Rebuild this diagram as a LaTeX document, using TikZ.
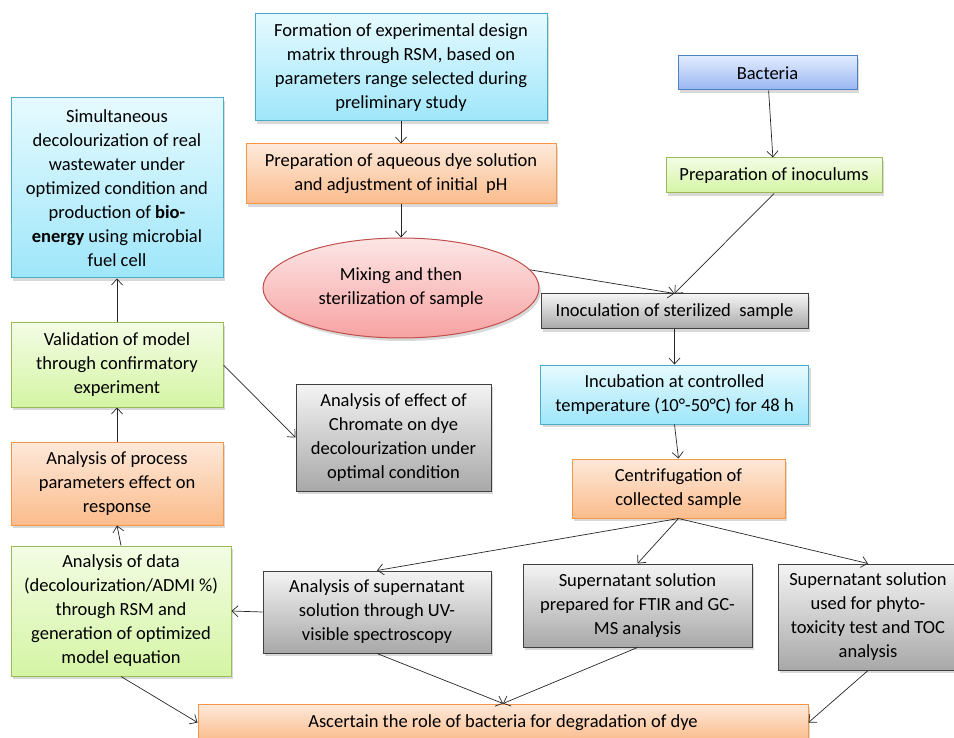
\documentclass[tikz,border=0pt]{standalone}
\usepackage{fontspec}
\setmainfont{Carlito}
\usetikzlibrary{positioning,shapes.geometric,shadows,arrows.meta}

\definecolor{cyanline}{HTML}{4BACC6}
\definecolor{cyantop}{HTML}{E6FAFE}
\definecolor{cyanbot}{HTML}{9EE6FA}
\definecolor{orgline}{HTML}{F79646}
\definecolor{orgtop}{HTML}{FDE9DA}
\definecolor{orgbot}{HTML}{FBBC8C}
\definecolor{grnline}{HTML}{9BBB59}
\definecolor{grntop}{HTML}{F3FCE4}
\definecolor{grnbot}{HTML}{D4F5A4}
\definecolor{gryline}{HTML}{404040}
\definecolor{grytop}{HTML}{F4F4F4}
\definecolor{grybot}{HTML}{A8A8A8}
\definecolor{bluline}{HTML}{4F81BD}
\definecolor{blutop}{HTML}{E2EBFD}
\definecolor{blubot}{HTML}{98B6F4}
\definecolor{redline}{HTML}{C0504D}
\definecolor{redtop}{HTML}{FDE6E6}
\definecolor{redbot}{HTML}{F7A2A2}

\begin{document}
\begin{tikzpicture}[x=1pt, y=-1pt, >={Straight Barb[length=6pt,width=11pt]},
  main/.style = {draw, line width=1pt, align=center, inner sep=0pt,
    font=\fontsize{18.5}{24}\selectfont,
    drop shadow={opacity=0.3, shadow xshift=2pt, shadow yshift=-3pt}},
  cyanbox/.style = {main, draw=cyanline, top color=cyantop, bottom color=cyanbot},
  orgbox/.style = {main, draw=orgline, top color=orgtop, bottom color=orgbot},
  grnbox/.style = {main, draw=grnline, top color=grntop, bottom color=grnbot},
  grybox/.style = {main, draw=gryline, top color=grytop, bottom color=grybot},
  blubox/.style = {main, draw=bluline, top color=blutop, bottom color=blubot},
  link/.style = {->, line width=0.7pt, draw=black!85}]
\useasboundingbox (0,0) rectangle (954,738);

% top middle chain
\node[cyanbox, minimum width=292pt, minimum height=107pt] (form) at (401,67.5)
  {Formation of experimental design\\ matrix through RSM, based on\\ parameters range selected during\\ preliminary study};
\node[orgbox, minimum width=310pt, minimum height=60pt] (dye) [below=22pt of form]
  {Preparation of aqueous dye solution\\ and adjustment of initial\ \ pH};
\node[main, ellipse, draw=redline, top color=redtop, bottom color=redbot,
  minimum width=276pt, minimum height=100pt] (mix) [below=33pt of dye]
  {Mixing and then\\ sterilization of sample};

% bacteria side
\node[blubox, minimum width=179pt, minimum height=34pt] (bact) at (767.5,73) {Bacteria};
\node[grnbox, minimum width=216pt, minimum height=35pt] (inoc) at (774,175.5) {Preparation of inoculums};
\node[grybox, minimum width=267pt, minimum height=35pt] (inocul) at (674.5,311.5) {Inoculation of sterilized\ \ sample};
\node[cyanbox, minimum width=268pt, minimum height=59pt] (incub) [below=35pt of inocul]
  {Incubation at controlled\\ temperature (10°-50°C) for 48 h};
\node[orgbox, minimum width=213pt, minimum height=59pt] (centri) [below=34pt of incub, xshift=4pt]
  {Centrifugation of\\ collected sample};

% left column
\node[cyanbox, minimum width=212pt, minimum height=180pt] (simul) at (117,188)
  {Simultaneous\\ decolourization of real\\ wastewater under\\ optimized condition and\\ production of \textbf{bio-}\\ \textbf{energy} using microbial\\ fuel cell};
\node[grnbox, minimum width=212pt, minimum height=84pt] (valid) [below=44pt of simul]
  {Validation of model\\ through confirmatory\\ experiment};
\node[orgbox, minimum width=212pt, minimum height=83pt] (proc) [below=34pt of valid]
  {Analysis of process\\ parameters effect on\\ response};
\node[grnbox, minimum width=220pt, minimum height=130pt] (data) [below=20pt of proc, xshift=4pt]
  {Analysis of data\\ (decolourization/ADMI \%)\\ through RSM and\\ generation of optimized\\ model equation};
\node[grybox, minimum width=195pt, minimum height=107pt] (chrom) at (393.5,437.5)
  {Analysis of effect of\\ Chromate on dye\\ decolourization under\\ optimal condition};

% bottom row
\node[grybox, minimum width=228pt, minimum height=82pt] (uv) at (377,612)
  {Analysis of supernatant\\ solution through UV-\\ visible spectroscopy};
\node[grybox, minimum width=229pt, minimum height=83pt] (ftir) at (637.5,605.5)
  {Supernatant solution\\ prepared for FTIR and GC-\\ MS analysis};
\node[grybox, minimum width=180pt, minimum height=106pt] (phyto) at (868,617)
  {Supernatant solution\\ used for phyto-\\ toxicity test and TOC\\ analysis};
\node[orgbox, minimum width=610pt, minimum height=37pt] (asc) at (503,722.5)
  {Ascertain the role of bacteria for degradation of dye};

\draw[link] (form) -- (dye);
\draw[link] (dye) -- (mix);
\draw[link] (bact) -- (inoc);
\draw[link] (inoc.south) -- (inocul.north);
\draw[link] (mix.8) -- (inocul.north);
\draw[link] (inocul) -- (incub);
\draw[link] (incub.south) -- (centri.north);
\draw[link] (centri.south) -- (uv.north);
\draw[link] (centri.south) -- (ftir.north);
\draw[link] (centri.south) -- (phyto.north);
\draw[link] (uv.west) -- (data.east);
\draw[link] (data.south) -- (asc.west);
\draw[link] (uv.south) -- (asc.north);
\draw[link] (ftir.south) -- (asc.north);
\draw[link] (phyto.south) -- (asc.east);
\draw[link] (data.north) -- (proc.south);
\draw[link] (proc) -- (valid);
\draw[link] (valid) -- (simul);
\draw[link] (valid.east) -- (chrom.west);
\end{tikzpicture}
\end{document}
